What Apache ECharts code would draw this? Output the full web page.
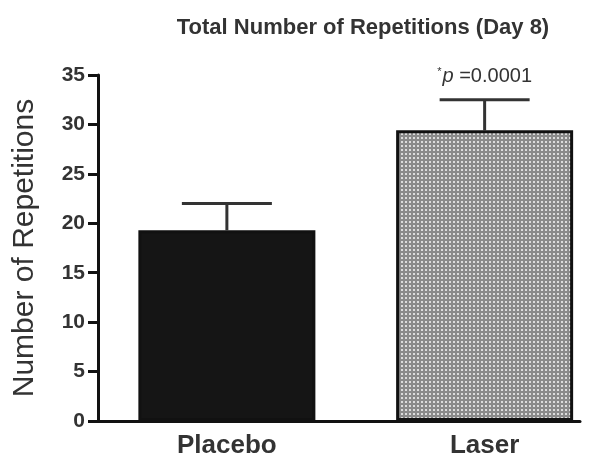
<!DOCTYPE html>
<html>
<head>
<meta charset="utf-8">
<style type="text/css">
  * { margin: 0; padding: 0; }
  #chart { width: 605px; height: 457px; background: #fff; }
</style>
<script type="text/javascript" src="https://cdn.jsdelivr.net/npm/echarts@6/dist/echarts.min.js"></script>
</head>
<body>
<div id="chart"></div>
<script type="text/javascript">
// data
var groups = ['Placebo', 'Laser'];
var groupPos = [0.5, 1.5];
var means = [19.3, 29.4];
var errTops = [22.0, 32.5];
var notes = ['', '*p =0.0001'];
var yTicks = [0, 5, 10, 15, 20, 25, 30, 35];

// dotted grey fill of the laser bar
var tile = document.createElement('canvas');
tile.width = 4;
tile.height = 4;
var tc = tile.getContext('2d');
tc.fillStyle = '#8a8a8a';
tc.fillRect(0, 0, 4, 4);
tc.fillStyle = '#dcdcdc';
tc.fillRect(1, 1, 2, 2);

var fills = ['#151515', { image: tile, repeat: 'repeat' }];

var barData = groupPos.map(function (x, i) {
  return {
    value: [x, means[i]],
    itemStyle: { color: fills[i] }
  };
});
var errData = groupPos.map(function (x, i) {
  return [x, means[i], errTops[i], i];
});

var chart = echarts.init(document.getElementById('chart'));
var option = {
  animation: false,
  title: {
    text: 'Total Number of Repetitions (Day 8)',
    left: 358,
    top: 12,
    textAlign: 'center',
    textStyle: { fontFamily: 'Liberation Sans, Arial', fontSize: 22, fontWeight: 'bold', color: '#333' }
  },
  grid: { left: 98, top: 75, width: 482, height: 346, outerBoundsMode: 'none', containLabel: false },
  xAxis: {
    type: 'value',
    min: 0,
    max: 1.87,
    interval: 0.5,
    splitLine: { show: false },
    axisTick: { show: false },
    axisLine: { lineStyle: { color: '#111', width: 3 } },
    axisLabel: {
      showMaxLabel: false,
      margin: 12,
      fontFamily: 'Liberation Sans, Arial',
      fontSize: 26,
      fontWeight: 'bold',
      color: '#333',
      formatter: function (v) {
        var k = groupPos.indexOf(v);
        return k < 0 ? '' : groups[k];
      }
    }
  },
  yAxis: {
    type: 'value',
    min: yTicks[0],
    max: yTicks[yTicks.length - 1],
    interval: 5,
    name: 'Number of Repetitions',
    nameLocation: 'middle',
    nameRotate: 90,
    nameGap: 58,
    nameTextStyle: { fontFamily: 'Liberation Sans, Arial', fontSize: 30, color: '#333' },
    splitLine: { show: false },
    axisLine: { show: true, lineStyle: { color: '#111', width: 3 } },
    axisTick: { show: true, length: 10, lineStyle: { color: '#111', width: 3 } },
    axisLabel: {
      margin: 13,
      fontFamily: 'Liberation Sans, Arial',
      fontSize: 21,
      fontWeight: 'bold',
      color: '#333'
    }
  },
  series: [{
    type: 'bar',
    barWidth: 177,
    data: barData,
    itemStyle: { borderColor: '#111', borderWidth: 3 },
    z: 3
  }, {
    type: 'custom',
    data: errData,
    z: 2,
    renderItem: function (params, api) {
      var x = api.value(0);
      var base = api.coord([x, api.value(1)]);
      var top = api.coord([x, api.value(2)]);
      var half = 45;
      var children = [{
        type: 'line',
        shape: { x1: top[0], y1: base[1], x2: top[0], y2: top[1] },
        style: { stroke: '#333', lineWidth: 3 }
      }, {
        type: 'line',
        shape: { x1: top[0] - half, y1: top[1], x2: top[0] + half, y2: top[1] },
        style: { stroke: '#333', lineWidth: 3 }
      }];
      var note = notes[api.value(3)];
      if (note) {
        children.push({
          type: 'text',
          x: top[0],
          y: top[1] - 13,
          style: {
            text: '{s|*}{i|p} =0.0001',
            align: 'center',
            verticalAlign: 'bottom',
            fill: '#333',
            fontFamily: 'Liberation Sans, Arial',
            fontSize: 20,
            rich: {
              s: { fontSize: 11, verticalAlign: 'top', padding: [0, 1, 8, 0] },
              i: { fontStyle: 'italic', fontSize: 20 }
            }
          }
        });
      }
      return { type: 'group', children: children };
    }
  }]
};
chart.setOption(option);
</script>
</body>
</html>
